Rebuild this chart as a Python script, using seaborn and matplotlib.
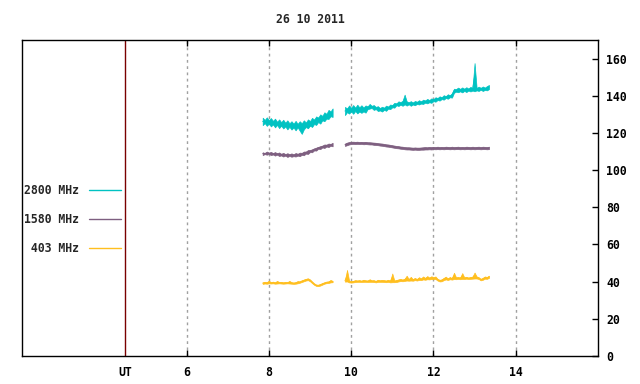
import numpy as np
import pandas as pd
import matplotlib
matplotlib.use("Agg")
import matplotlib.pyplot as plt
from matplotlib.lines import Line2D
import seaborn as sns

# --- data (UT hours, flux units) ---
# each trace is given as the low / high envelope of the noisy record
# in 3-minute bins; seaborn draws the min-max band between them.
title = "26 10 2011"
bands = ["2800 MHz", "1580 MHz", "403 MHz"]
band_colors = ["#00c2c2", "#7e5f80", "#ffbf1f"]

seg1_start, seg2_start, step = 7.85, 9.85, 0.05

f2800_lo_1 = [124.2, 125.3, 123.8, 125.0, 123.5, 124.6, 123.0, 124.3, 122.6, 123.9,
              122.4, 123.5, 121.9, 123.3, 121.8, 122.9, 121.4, 123.0, 121.2, 119.5,
              121.9, 123.2, 122.5, 123.9, 123.2, 124.8, 124.3, 125.9, 125.0, 126.8,
              126.3, 127.7, 127.5, 129.0, 128.6]
f2800_hi_1 = [128.2, 127.0, 128.4, 126.9, 128.0, 126.5, 127.7, 126.0, 127.3, 125.8,
              127.1, 125.5, 126.8, 125.2, 126.3, 125.0, 126.5, 124.9, 126.3, 125.2,
              126.8, 125.6, 127.3, 126.4, 128.1, 127.2, 128.9, 128.3, 130.0, 129.2,
              131.1, 130.3, 132.4, 131.6, 133.2]
f2800_lo_2 = [129.6, 131.2, 130.4, 131.6, 130.3, 131.8, 130.5, 131.5, 130.8, 131.6,
              130.9, 132.8, 133.1, 133.4, 132.4, 132.8, 131.8, 132.1, 131.5, 132.4,
              131.9, 133.1, 132.8, 133.8, 133.6, 134.9, 134.5, 135.2, 134.6, 135.4,
              134.7, 135.4, 134.6, 135.3, 134.9, 135.6, 135.3, 135.8, 135.6, 136.3,
              135.9, 136.5, 136.2, 137.1, 136.8, 137.7, 137.4, 138.2, 137.9, 138.8,
              138.4, 139.2, 139.0, 141.6, 142.2, 141.9, 142.4, 141.8, 142.6, 142.0,
              142.8, 142.3, 142.8, 142.4, 142.9, 142.6, 143.2, 142.6, 143.1, 142.9,
              143.6]
f2800_hi_2 = [134.0, 133.2, 134.8, 133.5, 135.0, 133.6, 135.2, 133.8, 134.9, 133.7,
              134.8, 134.3, 135.6, 134.6, 135.0, 134.0, 134.4, 133.4, 134.1, 133.6,
              134.7, 134.2, 135.3, 135.0, 136.2, 135.9, 137.0, 136.6, 137.3, 140.6,
              137.0, 136.5, 137.1, 136.4, 137.2, 136.8, 137.6, 137.0, 137.9, 137.5,
              138.3, 137.7, 138.6, 138.2, 139.2, 138.8, 139.7, 139.2, 140.3, 139.8,
              140.8, 140.3, 141.4, 143.8, 143.6, 144.4, 143.7, 144.5, 143.8, 144.6,
              143.9, 144.8, 144.1, 157.6, 144.2, 144.9, 144.3, 145.0, 144.4, 145.2,
              145.8]

f1580_lo_1 = [108.1, 108.6, 108.3, 108.7, 108.1, 108.4, 107.8, 108.3, 107.6, 107.9,
              107.3, 107.8, 107.1, 107.6, 107.2, 107.5, 107.3, 107.8, 107.5, 108.2,
              108.0, 108.9, 108.7, 109.7, 109.6, 110.6, 110.5, 111.5, 111.3, 112.2,
              111.9, 112.7, 112.4, 113.1, 112.8]
f1580_hi_1 = [109.6, 109.2, 110.0, 109.4, 109.8, 109.2, 109.7, 109.1, 109.5, 108.8,
              109.3, 108.6, 109.1, 108.6, 109.0, 108.5, 109.2, 108.8, 109.4, 109.3,
              110.0, 110.0, 110.8, 110.8, 111.2, 111.7, 112.1, 112.5, 112.9, 113.2,
              113.8, 113.7, 114.3, 114.1, 114.7]
f1580_lo_2 = [113.0, 113.4, 113.8, 114.0, 114.1, 114.0, 114.1, 114.0, 114.1, 113.9,
              114.0, 113.9, 113.8, 113.8, 113.6, 113.5, 113.4, 113.2, 113.1, 112.9,
              112.7, 112.6, 112.4, 112.2, 112.0, 111.8, 111.7, 111.5, 111.4, 111.2,
              111.1, 111.1, 111.0, 110.9, 111.0, 110.9, 110.9, 111.0, 111.0, 111.1,
              111.1, 111.2, 111.1, 111.3, 111.2, 111.3, 111.2, 111.3, 111.2, 111.3,
              111.3, 111.2, 111.3, 111.2, 111.3, 111.3, 111.2, 111.3, 111.2, 111.3,
              111.3, 111.2, 111.3, 111.2, 111.3, 111.3, 111.2, 111.3, 111.3, 111.2,
              111.3]
f1580_hi_2 = [114.3, 114.8, 115.1, 115.2, 115.3, 115.2, 115.3, 115.1, 115.2, 115.1,
              115.2, 115.0, 115.0, 114.9, 114.8, 114.7, 114.5, 114.4, 114.3, 114.1,
              113.9, 113.8, 113.6, 113.4, 113.2, 113.0, 112.9, 112.7, 112.6, 112.4,
              112.3, 112.3, 112.2, 112.1, 112.2, 112.1, 112.1, 112.2, 112.3, 112.4,
              112.3, 112.5, 112.4, 112.5, 112.4, 112.6, 112.4, 112.5, 112.4, 112.6,
              112.5, 112.4, 112.6, 112.4, 112.5, 112.6, 112.4, 112.5, 112.4, 112.6,
              112.5, 112.4, 112.6, 112.4, 112.5, 112.6, 112.4, 112.6, 112.5, 112.4,
              112.6]

f403_lo_1 = [38.8, 39.0, 38.9, 39.1, 39.0, 39.1, 38.9, 39.0, 39.1, 39.0,
             38.9, 39.0, 39.1, 39.0, 38.9, 38.8, 38.9, 39.1, 39.4, 39.8,
             40.2, 40.6, 40.8, 40.2, 39.2, 38.3, 37.7, 37.6, 37.9, 38.4,
             38.9, 39.2, 39.3, 39.6, 39.7]
f403_hi_1 = [39.6, 39.9, 39.7, 40.5, 39.7, 40.0, 39.6, 40.4, 39.8, 39.9,
             39.6, 39.8, 39.7, 40.4, 39.7, 39.5, 39.7, 40.3, 40.1, 40.7,
             41.1, 41.5, 41.8, 41.2, 40.1, 39.1, 38.4, 38.3, 38.7, 39.2,
             39.6, 40.0, 40.1, 40.9, 40.4]
f403_lo_2 = [40.0, 40.1, 39.6, 39.5, 39.6, 39.8, 39.9, 39.9, 39.8, 39.9,
             39.9, 39.8, 39.9, 39.9, 39.8, 39.6, 39.9, 39.9, 39.9, 39.8,
             39.7, 39.9, 39.6, 39.7, 39.7, 39.8, 40.1, 40.3, 40.2, 40.4,
             40.6, 40.5, 40.6, 40.5, 40.8, 40.6, 40.9, 40.8, 41.2, 41.0,
             41.3, 41.2, 41.4, 41.3, 41.4, 40.6, 40.1, 40.2, 40.8, 41.2,
             40.9, 41.3, 41.1, 41.4, 41.3, 41.5, 41.3, 41.5, 41.4, 41.6,
             41.4, 41.5, 41.6, 41.7, 41.7, 41.4, 40.7, 41.0, 41.6, 41.5,
             42.0]
f403_hi_2 = [40.9, 46.3, 40.6, 40.2, 40.4, 40.8, 40.6, 40.8, 40.5, 41.0,
             40.7, 40.6, 41.3, 40.7, 40.8, 40.4, 41.0, 40.7, 40.9, 40.8,
             40.6, 41.0, 40.5, 44.4, 40.6, 40.9, 41.2, 41.5, 41.1, 41.6,
             43.2, 41.4, 42.6, 41.3, 42.0, 41.4, 42.4, 41.7, 42.8, 42.0,
             43.0, 42.2, 42.9, 42.4, 42.8, 41.5, 41.0, 41.2, 42.0, 42.7,
             41.7, 42.5, 41.9, 44.8, 42.3, 42.5, 42.2, 44.6, 42.3, 42.6,
             42.2, 42.5, 42.7, 44.9, 42.8, 42.4, 41.5, 42.0, 42.8, 42.5,
             43.2]

x_ticks = [6, 8, 10, 12, 14]
ut_mark = 4.5
y_ticks = [0, 20, 40, 60, 80, 100, 120, 140, 160]


def segment_frame(start, lo, hi):
    t = start + step * np.arange(len(lo))
    return pd.DataFrame({"t": np.concatenate([t, t]),
                         "flux": np.concatenate([lo, hi])})


traces = {
    "2800 MHz": [(seg1_start, f2800_lo_1, f2800_hi_1), (seg2_start, f2800_lo_2, f2800_hi_2)],
    "1580 MHz": [(seg1_start, f1580_lo_1, f1580_hi_1), (seg2_start, f1580_lo_2, f1580_hi_2)],
    "403 MHz": [(seg1_start, f403_lo_1, f403_hi_1), (seg2_start, f403_lo_2, f403_hi_2)],
}

sns.set_style("white")
plt.rcParams["font.family"] = ["DejaVu Sans Mono"]
plt.rcParams["font.weight"] = "bold"
fs = 8.3

fig = plt.figure(figsize=(6.4, 3.84), dpi=100)
ax = fig.add_axes([22 / 640, 28 / 384, 576 / 640, 316 / 384])

# dotted vertical grid at the hour ticks
for xv in x_ticks:
    ax.axvline(xv, color="#a0a0a0", lw=1.0, ls=(0, (2, 2.5)), zorder=0)
ax.axvline(ut_mark, color="#7a0000", lw=1.0, zorder=1)

for band, color in zip(bands, band_colors):
    for start, lo, hi in traces[band]:
        sns.lineplot(data=segment_frame(start, lo, hi), x="t", y="flux",
                     errorbar=("pi", 100), color=color, lw=0.7, ax=ax,
                     err_kws={"alpha": 1.0, "linewidth": 0.5, "edgecolor": color})

ax.set_xlim(2, 16)
ax.set_ylim(0, 170)
ax.set_xlabel("")
ax.set_ylabel("")

ax.set_xticks([ut_mark] + x_ticks)
ax.set_xticklabels(["UT"] + [str(v) for v in x_ticks], fontsize=fs, fontweight="bold")
ax.tick_params(axis="x", direction="in", length=4, width=1, top=True, bottom=True,
               pad=7, colors="black")
# UT line carries no tick mark
ax.get_xaxis().get_major_ticks()[0].tick1line.set_visible(False)
ax.get_xaxis().get_major_ticks()[0].tick2line.set_visible(False)

ax.yaxis.tick_right()
ax.set_yticks(y_ticks)
ax.set_yticklabels([str(v) for v in y_ticks], fontsize=fs, fontweight="bold")
ax.tick_params(axis="y", direction="in", length=4, width=1, right=True, left=False,
               pad=6, colors="black")

for sp in ax.spines.values():
    sp.set_color("black")
    sp.set_linewidth(1.0)

ax.set_title(title, fontsize=fs, fontweight="bold", pad=12)

handles = [Line2D([], [], color=c, lw=1.0) for c in band_colors]
labels = ["2800 MHz", "1580 MHz", " 403 MHz"]
ax.legend(handles, labels, loc="upper left", bbox_to_anchor=(0.004, 0.545),
          frameon=False, markerfirst=False, handlelength=2.75, handletextpad=0.85,
          labelspacing=1.38, borderpad=0, borderaxespad=0,
          prop={"family": "DejaVu Sans Mono", "weight": "bold", "size": fs})

fig.savefig("out.png", dpi=100)
